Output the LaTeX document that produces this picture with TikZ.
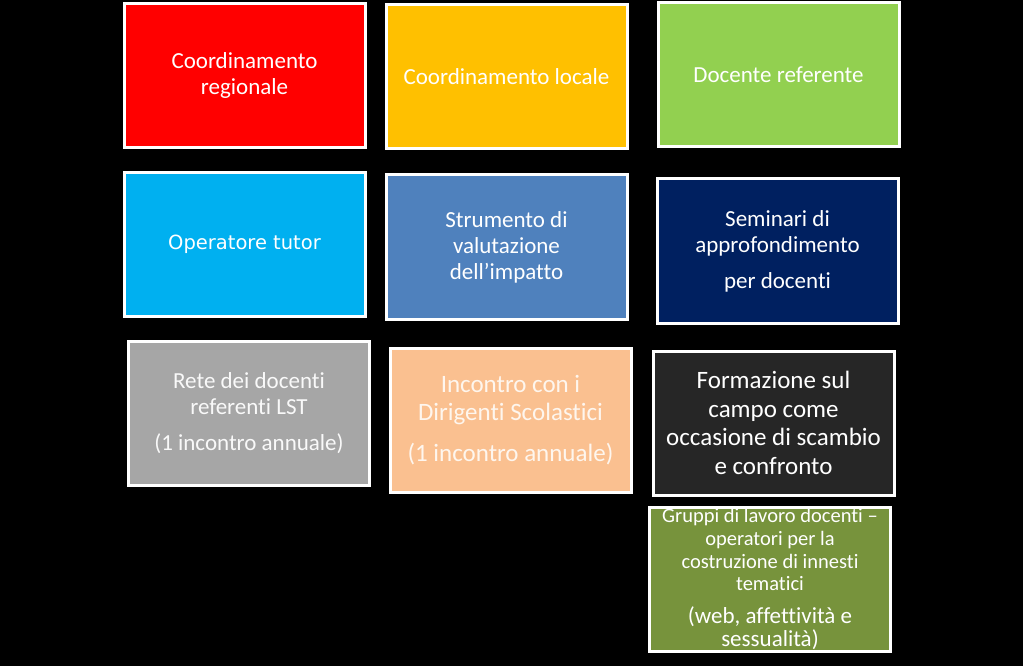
\documentclass[tikz,border=0pt]{standalone}
\usepackage{fontspec}
\setmainfont{Carlito}[Ligatures={NoCommon,NoContextual,NoRequired}]
\newfontfamily\verdanalike{DejaVu Sans}
\usetikzlibrary{positioning}
\definecolor{tred}{HTML}{FF0000}
\definecolor{torange}{HTML}{FFC000}
\definecolor{tgreen}{HTML}{92D050}
\definecolor{tcyan}{HTML}{00B0F0}
\definecolor{tsteel}{HTML}{4F81BD}
\definecolor{tnavy}{HTML}{002060}
\definecolor{tgray}{HTML}{A6A6A6}
\definecolor{tpeach}{HTML}{FAC090}
\definecolor{tdark}{HTML}{262626}
\definecolor{tolive}{HTML}{77933C}

\tikzset{
  tile/.style={draw=white,line width=3pt,fill=#1,text=white,align=center,
    minimum width=241pt,minimum height=144pt,inner sep=0pt,
    font=\fontsize{23}{26}\selectfont},
}

\begin{document}
\begin{tikzpicture}[x=1pt,y=-1pt]
\fill[black] (0,0) rectangle (1023,666);
\node[tile=tred] (reg) at (244.5,75.5) {Coordinamento\\regionale};
\node[tile=torange] (loc) at (506.5,76.5) {Coordinamento locale};
\node[tile=tgreen] (ref) at (778.5,75) {Docente referente};
\node[tile=tcyan,font=\verdanalike\fontsize{19.5}{24}\selectfont] (tutor) at (244.5,244.5) {Operatore tutor};
\node[tile=tsteel] (strum) at (506.5,247) {Strumento di\\valutazione\\dell’impatto};
\node[tile=tnavy] (sem) at (777.5,251) {Seminari di\\approfondimento\\[10pt]per docenti};
\node[tile=tgray,text=white!95!gray] (rete) at (249,413.5) {Rete dei docenti\\referenti LST\\[10pt](1 incontro annuale)};
\node[tile=tpeach,text=white!85!tpeach,font=\fontsize{25}{28}\selectfont] (dir) at (510.5,420) {Incontro con i\\Dirigenti Scolastici\\[13pt](1 incontro annuale)};
\node[tile=tdark,font=\fontsize{25}{28.5}\selectfont] (form) at (773.5,423) {Formazione sul\\campo come\\occasione di scambio\\e confronto};
\node[tile=tolive,font=\fontsize{20.5}{22.7}\selectfont] (gruppi) at (770,579) {Gruppi di lavoro docenti –\\operatori per la\\costruzione di innesti\\tematici\\[10pt]{\fontsize{23}{22}\selectfont (web, affettività e}\\{\fontsize{23}{22}\selectfont sessualità)}};
\end{tikzpicture}
\end{document}
